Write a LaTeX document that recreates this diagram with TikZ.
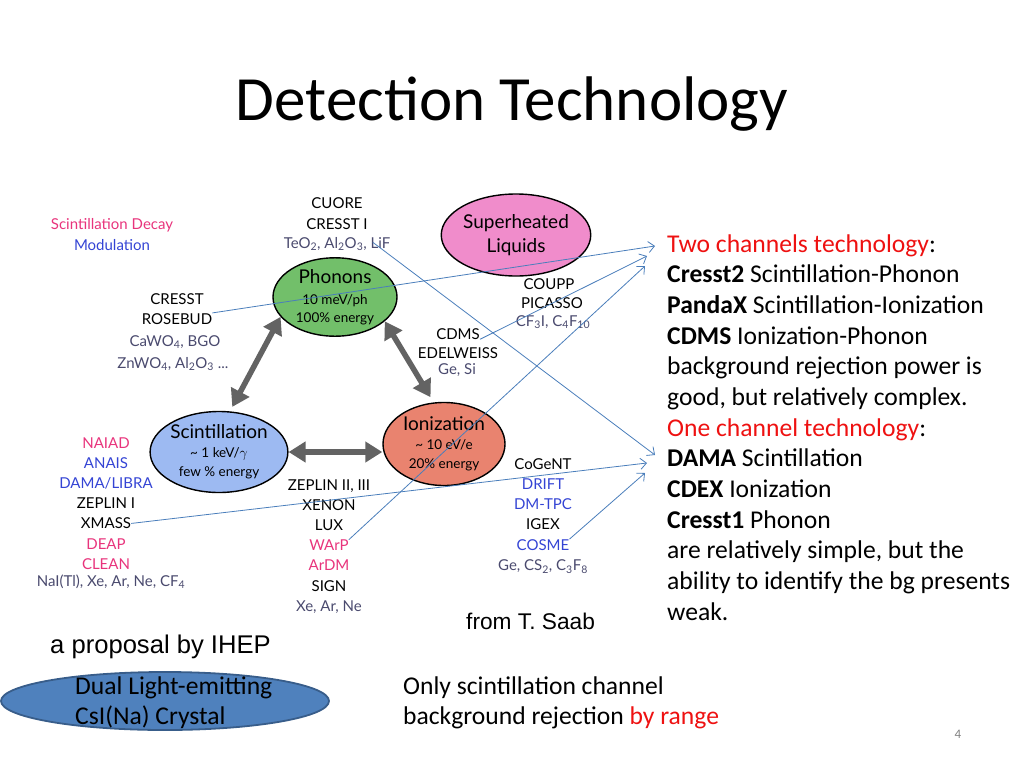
\documentclass[tikz,border=0pt]{standalone}
\usepackage{fontspec}
\setmainfont{Carlito}
\newfontfamily\arialfont{Liberation Sans}
\newfontfamily\gillfont{Lato}
\usetikzlibrary{shapes.geometric,arrows.meta}
\definecolor{redc}{HTML}{EE1111}
\definecolor{pinkc}{HTML}{E8347C}
\definecolor{bluec}{HTML}{3444D4}
\definecolor{matc}{HTML}{4A4A6E}
\definecolor{phonc}{HTML}{72BF6A}
\definecolor{superc}{HTML}{F08CCB}
\definecolor{scintc}{HTML}{9DBAF2}
\definecolor{ionc}{HTML}{E9836F}
\definecolor{arrowc}{HTML}{636363}
\definecolor{linkc}{HTML}{4A7EBB}
\definecolor{crystalc}{HTML}{4F81BD}
\definecolor{crystalb}{HTML}{385D8A}
\begin{document}
\begin{tikzpicture}[x=1pt, y=-1pt,
    lbl/.style={font=\gillfont\fontsize{15}{17}\selectfont, inner sep=0pt, anchor=base},
    tech/.style={draw, ellipse, line width=1.4pt, inner sep=0pt, align=center, font=\gillfont\fontsize{13.5}{19}\selectfont},
    dbl/.style={<->, >={Triangle[length=17pt,width=20pt]}, line width=5.5pt, draw=arrowc},
    link/.style={->, >={Straight Barb[length=6pt,width=11pt]}, draw=linkc, line width=0.8pt},
    body/.style={anchor=base west, inner sep=0pt, font=\fontsize{25.6}{30}\selectfont}]
    \useasboundingbox (0,0) rectangle (1024,768);

    % title
    \node[anchor=base, inner sep=0pt, font=\fontsize{63}{70}\selectfont] (title) at (512,120) {Detection Technology};

    % the four technologies
    \node[tech, fill=phonc, minimum width=124, minimum height=74, font=\gillfont\fontsize{13.5}{18}\selectfont] (phonons) at (335,297)
        {{\fontsize{19}{22}\selectfont Phonons}\\[3pt]10 meV/ph\\100\% energy};
    \node[tech, fill=superc, minimum width=122, minimum height=82, font=\gillfont\fontsize{19}{24}\selectfont] (super) at (516,235)
        {Superheated\\Liquids};
    \node[tech, fill=scintc, minimum width=128, minimum height=81] (scint) at (219,452)
        {{\fontsize{19}{22}\selectfont Scintillation}\\\textasciitilde{} 1 keV/$\gamma$\\few \% energy};
    \node[tech, fill=ionc, minimum width=122, minimum height=83] (ion) at (444,444)
        {{\fontsize{19}{22}\selectfont Ionization}\\\textasciitilde{} 10 eV/e\\20\% energy};

    \draw[dbl, shorten <=5pt] (scint.75) -- (phonons.200);
    \draw[dbl, shorten <=6pt] (ion.104) -- (phonons.334);
    \draw[dbl] (scint.east) -- (scint.east -| ion.west);

    % experiments round the diagram
    \node[lbl, text=pinkc] (decay) at (112,229) {Scintillation Decay};
    \node[lbl, text=bluec] (modul) at (112,250) {Modulation};

    \node[lbl] (cuore) at (337,208) {CUORE};
    \node[lbl] (cressti) at (337,229) {CRESST I};
    \node[lbl, text=matc] (teo) at (337,248) {TeO\textsubscript{2}, Al\textsubscript{2}O\textsubscript{3}, LiF};

    \node[lbl] (cresst) at (177,304) {CRESST};
    \node[lbl] (rosebud) at (177,324) {ROSEBUD};
    \node[lbl, text=matc] (cawo) at (175,346) {CaWO\textsubscript{4}, BGO};
    \node[lbl, text=matc] (znwo) at (173,368) {ZnWO\textsubscript{4}, Al\textsubscript{2}O\textsubscript{3} ...};

    \node[lbl] (coupp) at (549,289) {COUPP};
    \node[lbl] (picasso) at (552,308) {PICASSO};
    \node[lbl, text=matc] (cfi) at (553,326) {CF\textsubscript{3}I, C\textsubscript{4}F\textsubscript{10}};

    \node[lbl] (cdms) at (458,339) {CDMS};
    \node[lbl] (edelweiss) at (458,358) {EDELWEISS};
    \node[lbl, text=matc] (gesi) at (457,374) {Ge, Si};

    \foreach \n/\t/\c [count=\i] in {naiad/NAIAD/pinkc, anais/ANAIS/bluec, dama/{DAMA/LIBRA}/bluec,
        zeplina/{ZEPLIN I}/black, xmass/XMASS/black, deap/DEAP/pinkc, clean/CLEAN/pinkc}
        \node[lbl, text=\c] (\n) at (106,{448+20.2*(\i-1)}) {\t};
    \node[lbl, text=matc] (nai) at (111,586) {NaI(Tl), Xe, Ar, Ne, CF\textsubscript{4}};

    \foreach \n/\t/\c [count=\i] in {zeplinb/{ZEPLIN II, III}/black, xenon/XENON/black, lux/LUX/black,
        warp/WArP/pinkc, ardm/ArDM/pinkc, sign/SIGN/black, xearne/{Xe, Ar, Ne}/matc}
        \node[lbl, text=\c] (\n) at (329,{490+20.2*(\i-1)}) {\t};

    \foreach \n/\t/\c [count=\i] in {cogent/CoGeNT/black, drift/DRIFT/bluec, dmtpc/DM-TPC/bluec,
        igex/IGEX/black, cosme/COSME/bluec, gecs/{Ge, CS\textsubscript{2}, C\textsubscript{3}F\textsubscript{8}}/matc}
        \node[lbl, text=\c] (\n) at (543,{469+20.3*(\i-1)}) {\t};

    \node[anchor=base west, inner sep=0pt, font=\arialfont\fontsize{22.7}{26}\selectfont] (saab) at (466,629) {from T. Saab};

    % right column
    \foreach \t [count=\i] in {{{\color{redc}Two channels technology}:},
        {\textbf{Cresst2} Scintillation-Phonon},
        {\textbf{PandaX} Scintillation-Ionization},
        {\textbf{CDMS} Ionization-Phonon},
        {background rejection power is},
        {good, but relatively complex.},
        {{\color{redc}One channel technology}:},
        {\textbf{DAMA} Scintillation},
        {\textbf{CDEX} Ionization},
        {\textbf{Cresst1} Phonon},
        {are relatively simple, but the},
        {ability to identify the bg presents},
        {weak.}}
        \node[body] (r\i) at (667,{252+30.67*(\i-1)}) {\t};

    \coordinate (twoa) at (655,246);
    \coordinate (twob) at (647,256);
    \coordinate (twoc) at (645,266);
    \coordinate (onea) at (655,455);
    \coordinate (oneb) at (647,463);
    \coordinate (onec) at (645,473);

    \draw[link] (rosebud.north east) -- (twoa);
    \draw[link] (cdms.south east) -- (twob);
    \draw[link] (warp.north east) -- (twoc);
    \draw[link] ([xshift=5pt,yshift=-13pt]cressti.south east) -- (onea);
    \draw[link] (xmass.east) -- (oneb);
    \draw[link] (cosme.north east) -- (onec);

    % bottom
    \node[anchor=base west, inner sep=0pt, font=\arialfont\fontsize{25.6}{30}\selectfont] (ihep) at (50,653) {a proposal by IHEP};
    \node[draw=crystalb, fill=crystalc, ellipse, line width=1.8pt, minimum width=328, minimum height=58] (crystal) at (165,701) {};
    \node[anchor=base west, inner sep=0pt, font=\fontsize{25.6}{30}\selectfont] (dual) at (75,694) {Dual Light-emitting};
    \node[anchor=base west, inner sep=0pt, font=\fontsize{25.6}{30}\selectfont] (csi) at (75,724) {CsI(Na) Crystal};
    \node[anchor=base west, inner sep=0pt, font=\fontsize{25.6}{30}\selectfont] (only) at (403,694) {Only scintillation channel};
    \node[anchor=base west, inner sep=0pt, font=\fontsize{25.6}{30}\selectfont] (range) at (403,724) {background rejection {\color{redc}by range}};
    \node[anchor=base, inner sep=0pt, text=gray, font=\fontsize{13}{15}\selectfont] (page) at (958,738) {4};
\end{tikzpicture}
\end{document}
